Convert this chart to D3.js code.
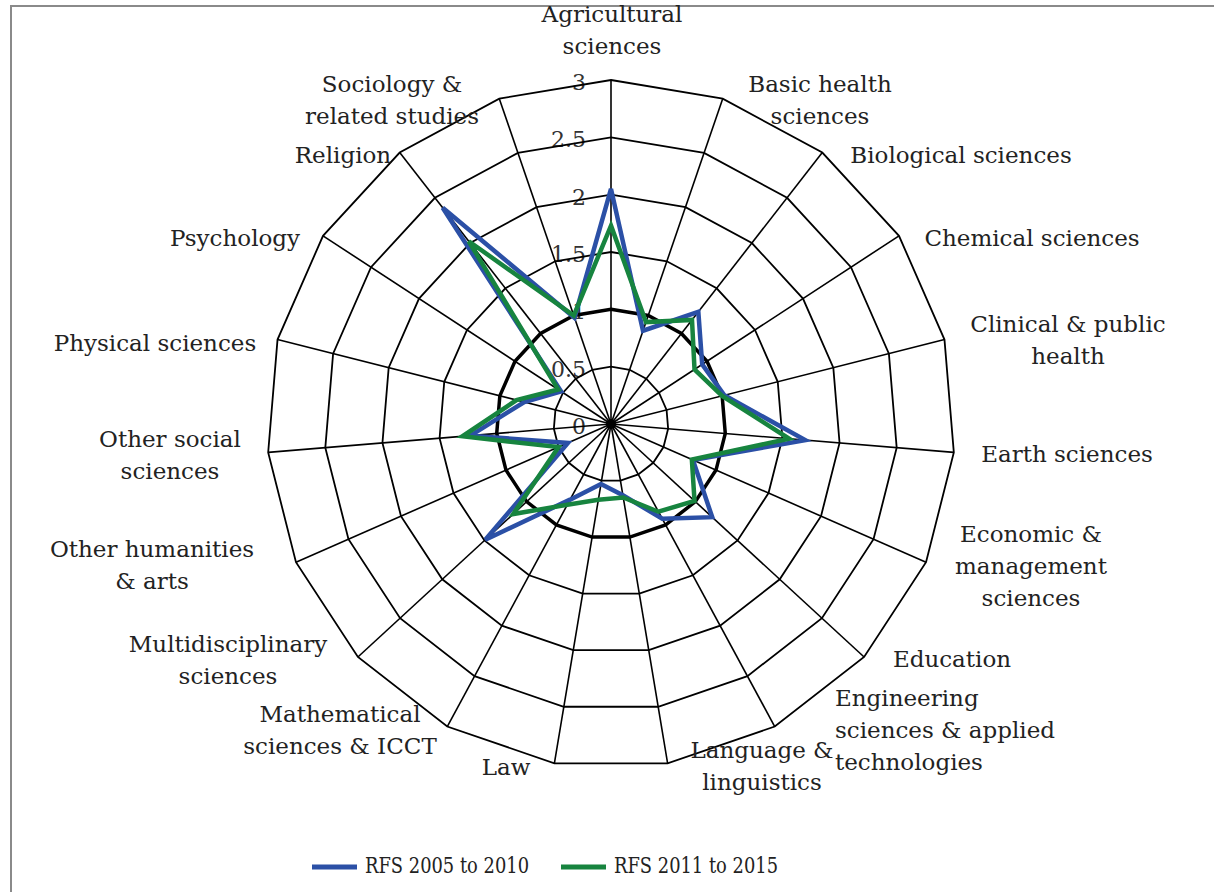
<!DOCTYPE html>
<html><head><meta charset="utf-8">
<script src="https://cdn.jsdelivr.net/npm/d3@7"></script>
<style>
html,body{margin:0;padding:0;background:#fff;}
svg{display:block;}
text{font-family:"DejaVu Serif",serif;fill:#222;}
</style></head>
<body>
<svg id="chart" width="1214" height="892"></svg>
<script>
// ---- data ----
const categories = [
  "Agricultural\nsciences","Basic health\nsciences","Biological sciences","Chemical sciences",
  "Clinical & public\nhealth","Earth sciences","Economic &\nmanagement\nsciences","Education",
  "Engineering\nsciences & applied\ntechnologies","Language &\nlinguistics","Law",
  "Mathematical\nsciences & ICCT","Multidisciplinary\nsciences","Other humanities\n& arts",
  "Other social\nsciences","Physical sciences","Psychology","Religion","Sociology &\nrelated studies"
];
const seriesNames = ["RFS 2005 to 2010","RFS 2011 to 2015"];
const rfs2005_2010 = [2.05,0.86,1.24,0.95,1.02,1.70,0.78,1.20,0.94,0.63,0.53,0.75,1.49,0.41,1.23,0.78,0.52,2.39,0.98];
const rfs2011_2015 = [1.73,0.94,1.15,0.87,1.00,1.56,0.77,0.99,0.87,0.65,0.67,0.80,1.16,0.50,1.30,0.85,0.55,2.02,1.00];
const tickValues = [0,0.5,1,1.5,2,2.5,3];
const tickLabels = ["0","0.5","1","1.5","2","2.5","3"];

// ---- layout ----
const W=1214,H=892, cx=611, cy=424, R=344;
const colors=["#2b50a6","#17843f"];
// label block centres (layout only)
const labelLayout = [
  [612,32,"middle"],[820,102,"middle"],[961,157,"middle"],[1032,240,"middle"],
  [1068,342,"middle"],[1067,456,"middle"],[1031,568,"middle"],[952,661,"middle"],
  [835,732,"start"],[762,768,"middle"],[506,769,"middle"],
  [340,732,"middle"],[228,662,"middle"],[152,567,"middle"],
  [170,457,"middle"],[155,345,"middle"],[235,240,"middle"],[343,157,"middle"],[392,102,"middle"]
];
const lineGap=32;

const svg=d3.select("#chart");
// frame
svg.append("rect").attr("x",11).attr("y",6).attr("width",W).attr("height",H)
  .attr("fill","none").attr("stroke","#8a8a8a").attr("stroke-width",2);

const g=svg.append("g").attr("transform",`translate(${cx},${cy})`);
const r=d3.scaleLinear().domain([0,3]).range([0,R]);
const ang=d3.scaleLinear().domain([0,categories.length]).range([0,2*Math.PI]);
const idx=d3.range(categories.length);

// tick labels (under grid)
g.selectAll("text.tick").data(tickValues).join("text").attr("class","tick")
  .attr("x",-25).attr("y",d=>-r(d)+4).attr("text-anchor","end")
  .attr("dominant-baseline","middle").style("font-size","22px").style("fill","#333")
  .text((d,i)=>tickLabels[i]);

// rings
const ringLine=d3.lineRadial().angle(i=>ang(i)).curve(d3.curveLinearClosed);
g.selectAll("path.ring").data(tickValues.filter(v=>v>0)).join("path").attr("class","ring")
  .attr("d",v=>ringLine.radius(()=>r(v))(idx))
  .attr("fill","none").attr("stroke","#000").attr("stroke-width",v=>v===1?3.5:1.8);

// spokes
g.selectAll("line.spoke").data(idx).join("line").attr("class","spoke")
  .attr("x1",0).attr("y1",0)
  .attr("x2",i=>r(3)*Math.sin(ang(i))).attr("y2",i=>-r(3)*Math.cos(ang(i)))
  .attr("stroke","#000").attr("stroke-width",1.6);
g.append("circle").attr("r",5).attr("fill","#000");

// series
const series=[rfs2005_2010,rfs2011_2015];
const dataLine=d3.lineRadial().angle((d,i)=>ang(i)).radius(d=>r(d)).curve(d3.curveLinearClosed);
g.selectAll("path.series").data(series).join("path").attr("class","series")
  .attr("d",d=>dataLine(d)).attr("fill","none")
  .attr("stroke",(d,i)=>colors[i]).attr("stroke-width",4.5).attr("stroke-linejoin","miter");

// category labels
categories.forEach((c,i)=>{
  const lines=c.split("\n"); const [x,y,anchor]=labelLayout[i];
  const t=svg.append("text").attr("text-anchor",anchor).style("font-size","23px");
  lines.forEach((ln,k)=>{
    t.append("tspan").attr("x",x).attr("y",y+(k-(lines.length-1)/2)*lineGap)
     .attr("dominant-baseline","middle").text(ln);
  });
});

// legend
const leg=svg.append("g");
const legX=[312,561];
seriesNames.forEach((n,i)=>{
  leg.append("line").attr("x1",legX[i]).attr("x2",legX[i]+45).attr("y1",867).attr("y2",867)
    .attr("stroke",colors[i]).attr("stroke-width",5);
  leg.append("text").attr("x",legX[i]+53).attr("y",867).attr("dominant-baseline","middle")
    .attr("textLength",164).attr("lengthAdjust","spacingAndGlyphs")
    .style("font-size","23px").text(n);
});
</script>
</body></html>
